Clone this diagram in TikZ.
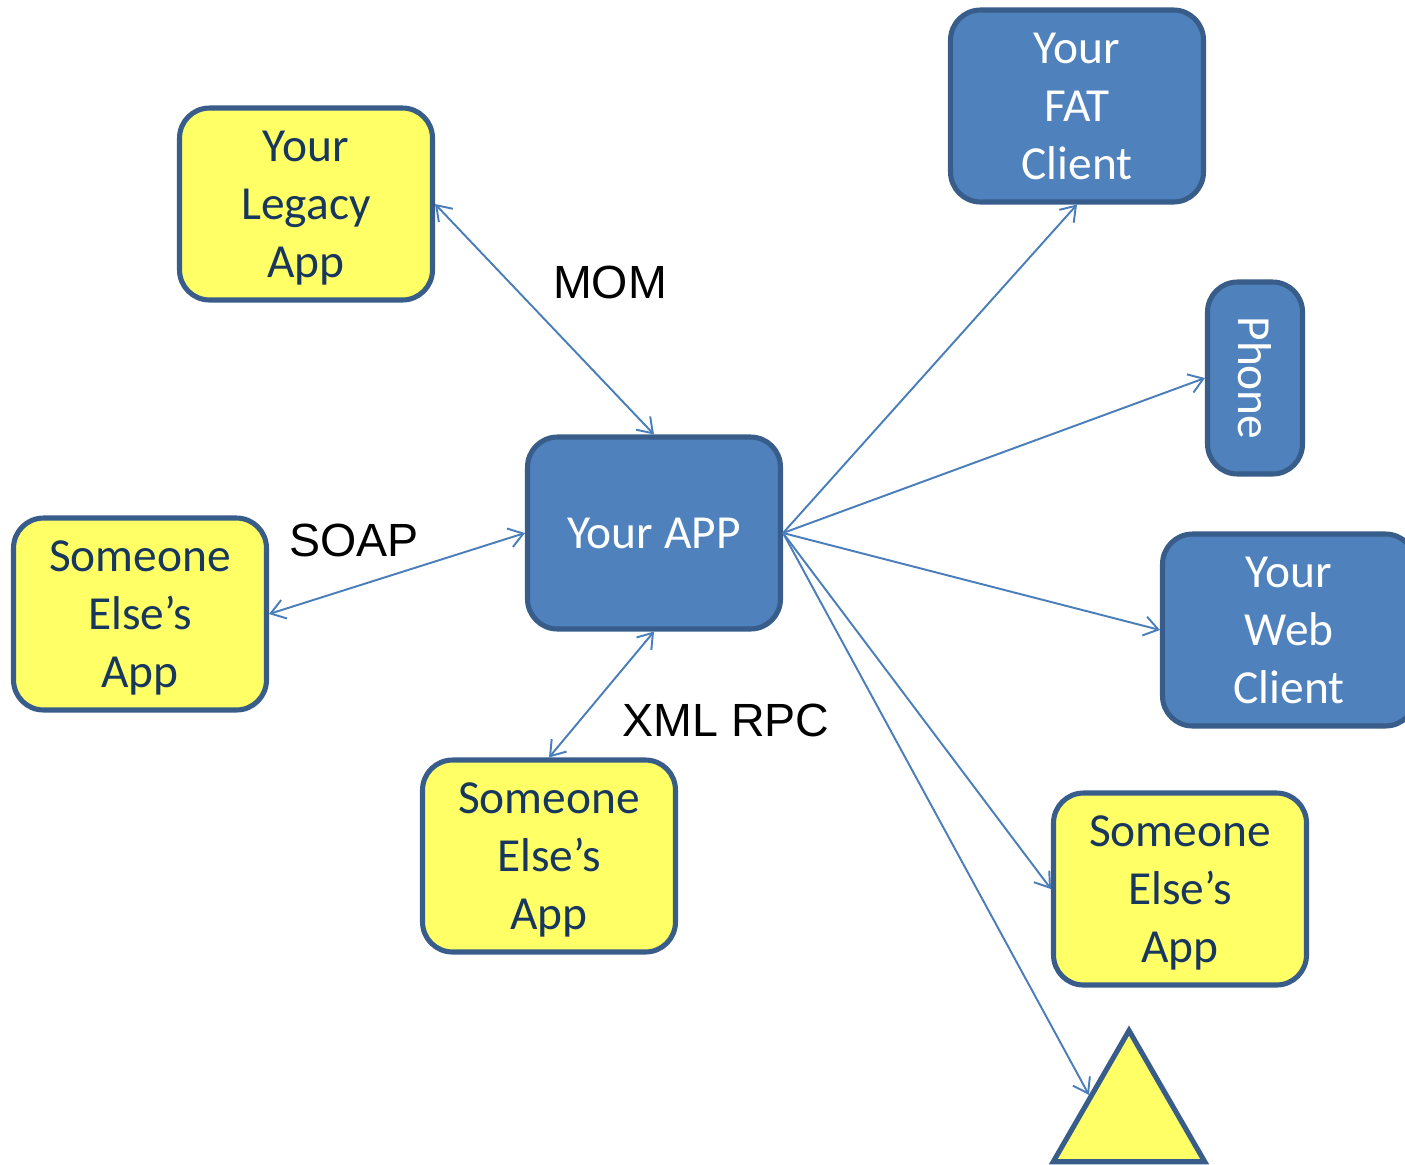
\documentclass[tikz,border=0pt]{standalone}
\usepackage{fontspec}
\setmainfont{Carlito}
\newfontfamily\labelfont{Liberation Sans}
\usetikzlibrary{arrows.meta,shapes.geometric}
\definecolor{appblue}{RGB}{79,129,189}
\definecolor{appborder}{RGB}{56,93,138}
\definecolor{appyellow}{RGB}{255,255,102}
\definecolor{apptext}{RGB}{23,55,94}
\definecolor{linkblue}{RGB}{74,126,187}

\begin{document}
\begin{tikzpicture}[x=0.02cm, y=-0.02cm,
    box/.style={draw=appborder, line width=2.9pt, rounded corners=0.6cm, align=center,
        minimum width=5.06cm, minimum height=3.84cm, inner sep=2pt, text depth=0pt,
        font=\fontsize{27}{33}\selectfont},
    ours/.style={box, fill=appblue, text=white},
    theirs/.style={box, fill=appyellow, text=apptext},
    link/.style={draw=linkblue, line width=1.1pt, -{Straight Barb[length=8pt,width=11pt]}},
    duplex/.style={link, {Straight Barb[length=8pt,width=11pt]}-{Straight Barb[length=8pt,width=11pt]}},
    proto/.style={font=\labelfont\fontsize{26.5}{30}\selectfont, text=black}]
    \path[use as bounding box, clip] (0,0) rectangle (1405,1164);

    % Central application
    \node[ours] (app) at (654,533) {Your APP};

    % Other apps talking to it
    \node[theirs] (legacy) at (306,204) {Your\\Legacy\\App};
    \node[theirs] (elseleft) at (140,614) {Someone\\Else’s\\App};
    \node[theirs] (elsebottom) at (549,856) {Someone\\Else’s\\App};
    \node[theirs] (elseright) at (1180,889) {Someone\\Else’s\\App};

    % Clients
    \node[ours] (fat) at (1077,106) {Your\\FAT\\Client};
    \node[ours, rotate=-90, minimum width=3.84cm, minimum height=1.9cm] (phone) at (1255,378) {Phone};
    \node[ours] (web) at (1289,630) {Your\\Web\\Client};
    \node[draw=appborder, fill=appyellow, line width=2.9pt, regular polygon, regular polygon sides=3,
        minimum size=3.5cm, inner sep=0pt] (tri) at (1129,1118) {};

    % Protocols
    \node[proto] (mom) at (610,282) {MOM};
    \node[proto] (soap) at (354,540) {SOAP};
    \node[proto] (xmlrpc) at (726,720) {XML RPC};

    \draw[duplex] (legacy.east) -- (app.north);
    \draw[duplex] (elseleft.east) -- (app.west);
    \draw[duplex] (elsebottom.north) -- (app.south);

    \draw[link] (app.east) -- (fat.south);
    \draw[link] (app.east) -- (phone.south);
    \draw[link] (app.east) -- (web.west);
    \draw[link] (app.east) -- (elseright.west);
    \draw[link] (app.east) -- (tri.side 1);
\end{tikzpicture}
\end{document}
